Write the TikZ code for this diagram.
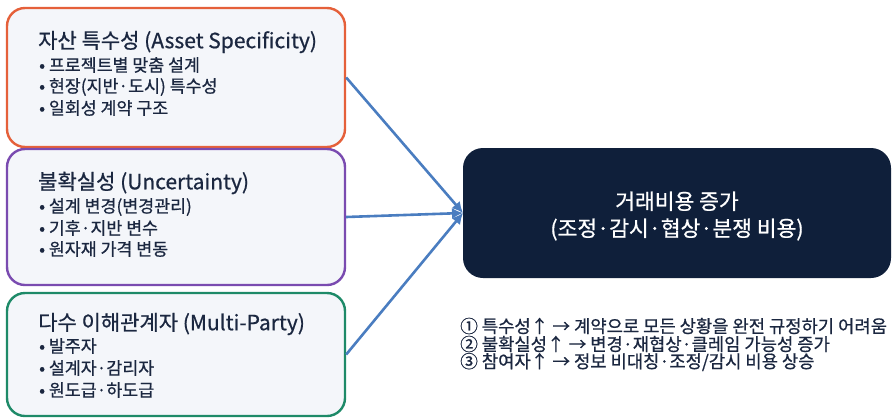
\documentclass[tikz,border=0pt]{standalone}
\usepackage{fontspec}
\setmainfont{Noto Sans CJK KR}
\newfontfamily\krmed[FakeBold=0.7]{Noto Sans CJK KR}
\usetikzlibrary{arrows.meta}
\definecolor{ink}{HTML}{1B2740}
\definecolor{boxfill}{HTML}{F4F6FA}
\definecolor{cOrange}{HTML}{E5603A}
\definecolor{cPurple}{HTML}{7A4BB0}
\definecolor{cGreen}{HTML}{1E8A68}
\definecolor{cNavy}{HTML}{0F1F3A}
\definecolor{cArrow}{HTML}{4A7DC0}
\tikzset{
  factor/.style={draw, line width=2.4pt, fill=boxfill, rounded corners=18pt, inner sep=0pt},
  result/.style={fill=cNavy, rounded corners=20pt, inner sep=0pt},
  title/.style={anchor=west, inner sep=0pt, text=ink, font=\krmed\fontsize{21}{23}\selectfont},
  item/.style={anchor=west, inner sep=0pt, text=ink, font=\krmed\fontsize{17.3}{19}\selectfont},
  note/.style={anchor=west, inner sep=0pt, text=ink, font=\krmed\fontsize{17.7}{18}\selectfont},
  link/.style={draw=cArrow, line width=2.6pt, -{Latex[length=11pt,width=11pt]}}
}
\begin{document}
\begin{tikzpicture}[x=1pt,y=-1pt]
\useasboundingbox (0,0) rectangle (893,418);
% factor boxes
\node[factor, draw=cOrange, minimum width=338pt, minimum height=139pt] (b1) at (176,77.5) {};
\node[factor, draw=cPurple, minimum width=338pt, minimum height=136pt] (b2) at (176,217) {};
\node[factor, draw=cGreen, minimum width=338pt, minimum height=123pt] (b3) at (176,354.5) {};
% result box
\coordinate (tip) at (463,213);
\draw[link] (b1.east) -- (tip);
\draw[link] (b2.east) -- (tip);
\draw[link] (b3.east) -- (tip);
\node[result, minimum width=428pt, minimum height=130pt] (r) at (677,213) {};
\node[text=white, align=center, font=\krmed\fontsize{21.5}{27}\selectfont] (rt) at (677,216) {거래비용 증가\\(조정·감시·협상·분쟁 비용)};
% texts box 1
\node[title] (t1) at (38,42) {자산 특수성 (Asset Specificity)};
\node[item] (t1a) at (39,65) {• 프로젝트별 맞춤 설계};
\node[item] (t1b) at (39,87) {• 현장(지반·도시) 특수성};
\node[item] (t1c) at (39,108) {• 일회성 계약 구조};
% texts box 2
\node[title] (t2) at (38,183) {불확실성 (Uncertainty)};
\node[item] (t2a) at (39,207) {• 설계 변경(변경관리)};
\node[item] (t2b) at (39,228) {• 기후·지반 변수};
\node[item] (t2c) at (39,249) {• 원자재 가격 변동};
% texts box 3
\node[title] (t3) at (38,324) {다수 이해관계자 (Multi-Party)};
\node[item] (t3a) at (39,346) {• 발주자};
\node[item] (t3b) at (39,368) {• 설계자·감리자};
\node[item] (t3c) at (39,390) {• 원도급·하도급};
% notes
\node[note] (n1) at (460,326) {① 특수성↑ → 계약으로 모든 상황을 완전 규정하기 어려움};
\node[note] (n2) at (460,344) {② 불확실성↑ → 변경·재협상·클레임 가능성 증가};
\node[note] (n3) at (460,362) {③ 참여자↑ → 정보 비대칭·조정/감시 비용 상승};
\end{tikzpicture}
\end{document}
